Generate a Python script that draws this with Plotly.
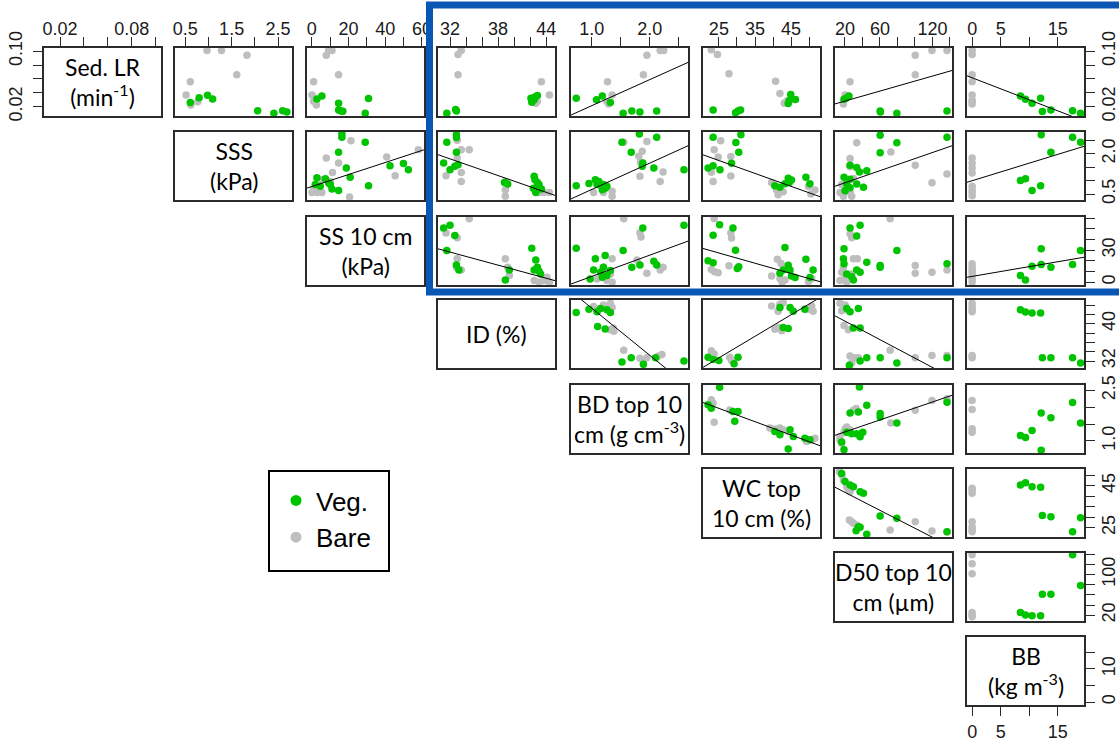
import plotly.graph_objects as go

# ---------------- variables ----------------
labels = ["Sed. LR<br>(min<sup>-1</sup>)", "SSS<br>(kPa)", "SS 10 cm<br>(kPa)", "ID (%)",
          "BD top 10<br>cm (g cm<sup>-3</sup>)", "WC top<br>10 cm (%)", "D50 top 10<br>cm (µm)",
          "BB<br>(kg m<sup>-3</sup>)"]
ranges = [[0.0066, 0.1045], [0.28, 2.80], [-2.6, 61.1], [30.5, 45.1],
          [0.64, 2.66], [20.6, 53.0], [8.6, 142.3], [-0.9, 19.6]]
tickvals = [[0.02, 0.04, 0.06, 0.08, 0.10], [0.5, 1.0, 1.5, 2.0, 2.5], [0, 10, 20, 30, 40, 50, 60],
            [32, 34, 36, 38, 40, 42, 44], [1.0, 1.5, 2.0, 2.5], [25, 30, 35, 40, 45, 50],
            [20, 40, 60, 80, 100, 120, 140], [0, 5, 10, 15]]
top_text = [["0.02", "", "", "0.08", ""], ["0.5", "", "1.5", "", "2.5"], ["0", "", "20", "", "40", "", "60"],
            ["32", "", "", "38", "", "", "44"], ["1.0", "", "2.0", ""], ["25", "", "35", "", "45", ""],
            ["20", "", "60", "", "", "120", ""], ["0", "5", "", "15"]]
side_text = [["0.02", "", "", "", "0.10"], ["0.5", "", "", "2.0", ""], ["0", "", "", "30", "", "", ""],
             ["32", "", "", "", "40", "", ""], ["1.0", "", "", "2.5"], ["25", "", "", "", "45", ""],
             ["20", "", "", "", "100", "", ""], ["0", "", "10", ""]]
legend_names = ["Veg.", "Bare"]

# ---------------- panel data (row variable = y, column variable = x) ----------------
bare_01_x = [0.97, 1.28, 1.83, 1.61, 0.61, 0.52, 0.62, 0.77]
bare_01_y = [0.101, 0.101, 0.094, 0.066, 0.056, 0.037, 0.0225, 0.027]
veg_01_x = [0.61, 0.80, 0.98, 1.09, 2.06, 2.41, 2.60, 2.69]
veg_01_y = [0.026, 0.033, 0.0365, 0.031, 0.014, 0.0105, 0.014, 0.0124]

bare_02_x = [9.2, 11.0, 7.9, 14.6, 1.0, 0.1, 1.0, 2.5]
bare_02_y = [0.101, 0.101, 0.094, 0.066, 0.056, 0.037, 0.028, 0.0225]
veg_02_x = [2.8, 5.5, 14.6, 14.6, 15.9, 16.9, 29.1, 30.9]
veg_02_y = [0.031, 0.0355, 0.025, 0.0153, 0.0138, 0.0135, 0.0105, 0.0317]

bare_03_x = [33.4, 33.0, 33.0, 43.4, 44.4, 42.7, 42.9]
bare_03_y = [0.101, 0.095, 0.066, 0.056, 0.037, 0.025, 0.028]
veg_03_x = [31.6, 32.8, 32.7, 42.1, 42.6, 42.9, 42.2, 42.5]
veg_03_y = [0.0105, 0.0138, 0.0158, 0.032, 0.034, 0.036, 0.0264, 0.030]

bare_04_x = [2.18, 2.24, 1.95, 1.89, 1.27, 1.35, 1.26, 1.29]
bare_04_y = [0.101, 0.101, 0.094, 0.066, 0.056, 0.037, 0.0273, 0.024]
veg_04_x = [0.73, 1.08, 1.18, 1.32, 1.54, 1.69, 1.83, 2.12]
veg_04_y = [0.0322, 0.030, 0.0355, 0.0259, 0.0105, 0.0138, 0.0124, 0.0138]

bare_05_x = [22.9, 24.6, 27.8, 40.7, 41.9, 43.1, 43.8]
bare_05_y = [0.102, 0.095, 0.0673, 0.0567, 0.039, 0.0248, 0.028]
veg_05_x = [23.4, 29.6, 30.3, 31.0, 44.9, 46.2, 44.5, 44.2]
veg_05_y = [0.0152, 0.0114, 0.0138, 0.0152, 0.0376, 0.0305, 0.029, 0.0247]

bare_06_x = [100.3, 119.4, 136.6, 100.3, 25.8, 20.1, 18.9, 18.2]
bare_06_y = [0.094, 0.101, 0.101, 0.066, 0.056, 0.037, 0.0297, 0.024]
veg_06_x = [18.9, 24.6, 21.2, 60.2, 60.5, 79.3, 136.6]
veg_06_y = [0.0307, 0.0355, 0.032, 0.0138, 0.0125, 0.0105, 0.0138]

bare_07_x = [0, 0, 0, 0, 0, 0, 0, 0]
bare_07_y = [0.101, 0.095, 0.066, 0.056, 0.037, 0.0297, 0.024, 0.0273]
veg_07_x = [8.46, 9.35, 10.5, 12.0, 12.3, 13.8, 17.6, 19.0]
veg_07_y = [0.0355, 0.0307, 0.0249, 0.0322, 0.0129, 0.0153, 0.0143, 0.0105]

bare_12_x = [21.3, 58.0, 7.9, 14.6, 40.8, 45.4, 11.3, 5.5, 0.1, 2.8, 5.5, 20.6, 10.1, 1.0]
bare_12_y = [2.48, 2.14, 1.84, 1.65, 1.87, 1.18, 1.30, 1.03, 0.56, 0.56, 0.56, 0.39, 0.97, 0.69]
veg_12_x = [16.4, 16.4, 29.1, 14.6, 18.8, 42.6, 49.9, 52.6, 20.9, 30.9, 2.8, 7.4, 1.9, 4.6, 10.1, 11.0, 14.6, 9.2]
veg_12_y = [2.73, 2.61, 2.42, 2.05, 1.47, 1.55, 1.63, 1.40, 1.12, 0.81, 1.10, 1.07, 0.85, 0.79, 0.85, 0.69, 0.63, 0.91]

bare_13_x = [32.9, 33.4, 34.4, 32.9, 31.5, 33.4, 33.4, 38.9, 38.9, 38.9, 43.1, 43.7, 44.4, 42.7]
bare_13_y = [2.49, 2.14, 2.14, 1.84, 1.18, 1.30, 0.97, 0.97, 0.66, 0.42, 0.56, 0.56, 0.56, 0.72]
veg_13_x = [32.8, 32.8, 31.6, 32.8, 31.2, 32.0, 32.6, 33.0, 39.2, 38.8, 42.5, 42.6, 42.9, 43.1, 42.4, 43.4, 42.7]
veg_13_y = [2.70, 2.60, 2.42, 2.05, 1.65, 1.40, 1.53, 1.59, 0.87, 0.93, 1.16, 1.03, 0.93, 0.85, 0.72, 0.69, 0.56]

bare_14_x = [1.55, 1.87, 1.95, 1.81, 1.84, 2.23, 2.18, 1.83, 1.03, 1.20, 1.35, 1.35, 1.18]
bare_14_y = [2.42, 2.09, 2.45, 1.90, 1.68, 1.32, 0.97, 1.16, 0.56, 0.56, 0.60, 0.42, 0.72]
veg_14_x = [1.52, 1.82, 2.12, 1.68, 1.88, 1.87, 2.07, 2.59, 0.73, 0.95, 1.06, 1.12, 1.20, 1.26, 1.09, 1.23, 1.18]
veg_14_y = [2.42, 2.73, 2.61, 2.05, 1.65, 1.53, 1.47, 1.40, 0.81, 0.89, 1.03, 0.97, 0.85, 0.79, 0.85, 0.72, 0.66]

bare_15_x = [25.5, 23.7, 28.3, 24.8, 22.9, 23.4, 28.3, 39.6, 41.0, 41.4, 42.8, 49.8, 50.5, 51.6]
bare_15_y = [2.48, 2.14, 1.89, 1.87, 1.31, 0.97, 1.17, 0.93, 0.65, 0.47, 0.59, 0.78, 0.50, 0.65]
veg_15_x = [23.4, 31.1, 29.7, 30.5, 28.5, 22.0, 23.4, 25.3, 44.2, 45.1, 49.1, 50.2, 40.5, 41.9, 44.5, 43.3]
veg_15_y = [2.61, 2.70, 2.41, 2.05, 1.64, 1.47, 1.55, 1.40, 1.09, 1.02, 1.12, 0.88, 0.81, 0.75, 0.93, 0.88]

bare_16_x = [33.4, 25.8, 25.8, 29.6, 72.4, 100.3, 119.4, 136.6, 16.2, 20.1, 25.8, 14.3, 27.7, 18.2]
bare_16_y = [2.40, 1.82, 1.51, 1.08, 2.06, 1.57, 0.92, 1.24, 0.85, 0.66, 0.56, 0.56, 0.42, 0.42]
veg_16_x = [60.2, 60.2, 79.3, 25.8, 33.4, 36.5, 44.9, 18.9, 25.8, 22.0, 33.4, 41.1, 25.8, 20.1, 136.6]
veg_16_y = [2.68, 2.03, 2.40, 1.57, 1.48, 1.32, 1.36, 1.12, 1.05, 0.87, 0.87, 0.75, 0.73, 0.62, 2.61]

bare_17_x = [0, 0, 0, 0, 0, 0, 0, 0]
bare_17_y = [1.84, 1.65, 1.47, 1.28, 0.79, 0.66, 0.56, 0.44]
veg_17_x = [8.46, 9.35, 10.5, 12.0, 12.1, 13.8, 17.6, 19.0]
veg_17_y = [1.00, 1.07, 0.63, 0.81, 2.70, 2.05, 2.61, 2.42]

bare_23_x = [34.4, 31.5, 32.9, 32.9, 32.8, 33.4, 38.9, 39.2, 39.4, 42.5, 43.1, 43.7, 44.1, 44.4]
bare_23_y = [59.5, 46.0, 41.6, 21.9, 14.0, 11.5, 21.9, 14.0, 6.2, 1.5, 0.0, 1.5, 4.6, 0.0]
veg_23_x = [31.2, 32.0, 32.6, 31.6, 32.8, 33.1, 42.2, 42.7, 42.9, 43.1, 42.5, 43.3, 38.9, 39.4]
veg_23_y = [50.7, 53.3, 43.8, 29.7, 16.2, 11.5, 31.9, 20.9, 14.0, 10.3, 11.5, 7.8, 2.1, 11.5]

bare_24_x = [1.55, 1.83, 1.85, 1.35, 1.20, 1.32, 1.09, 1.26, 1.35, 1.95, 2.18, 2.23, 1.78]
bare_24_y = [59.5, 46.3, 42.3, 21.9, 14.0, 7.8, 3.0, 1.5, 0.0, 8.4, 11.5, 14.0, 20.9]
veg_24_x = [0.73, 1.06, 1.23, 2.59, 1.88, 1.54, 1.69, 1.83, 2.07, 2.12, 1.03, 1.15, 1.20, 1.26, 1.18, 1.32, 0.97]
veg_24_y = [31.9, 21.9, 25.0, 53.3, 50.7, 29.7, 14.0, 16.2, 19.7, 16.2, 11.5, 9.3, 14.0, 6.2, 4.6, 10.9, 3.0]

bare_25_x = [23.7, 28.3, 28.5, 22.9, 23.8, 24.8, 27.8, 41.2, 42.2, 39.6, 41.9, 42.5, 43.3, 49.8, 50.7]
bare_25_y = [59.5, 46.2, 41.5, 12.0, 9.8, 8.9, 15.4, 21.6, 17.6, 5.8, 3.6, 0.0, 2.1, 0.5, 3.6]
veg_25_x = [25.2, 23.4, 28.9, 29.6, 22.0, 23.4, 30.5, 30.1, 43.3, 49.1, 51.1, 44.2, 44.7, 42.8, 41.9, 45.1, 46.1, 50.2]
veg_25_y = [53.9, 44.0, 50.8, 30.0, 20.1, 18.2, 14.5, 12.9, 32.5, 21.6, 11.4, 16.0, 11.4, 11.4, 8.3, 5.8, 4.5, 4.5]

bare_26_x = [71.6, 25.8, 27.7, 29.6, 34.2, 18.2, 16.2, 20.1, 14.3, 22.0, 27.7, 100.3, 100.3, 119.4, 136.6]
bare_26_y = [59.5, 45.4, 41.6, 21.9, 21.9, 14.0, 9.3, 4.6, 1.5, 0.0, 7.8, 15.6, 8.4, 9.3, 11.5]
veg_26_x = [25.8, 37.3, 33.4, 18.9, 18.2, 18.9, 44.9, 60.2, 60.2, 79.3, 136.6, 33.4, 37.3, 27.7, 22.0, 29.6]
veg_26_y = [50.7, 53.3, 43.2, 31.3, 21.9, 17.2, 18.7, 15.6, 14.0, 29.7, 17.2, 11.5, 9.3, 5.2, 7.8, 2.1]

bare_27_x = [0, 0, 0, 0, 0, 0, 0]
bare_27_y = [17.2, 14.0, 11.5, 9.3, 6.2, 3.0, 0.0]
veg_27_x = [8.46, 9.35, 10.5, 12.1, 12.1, 13.8, 17.6, 19.0]
veg_27_y = [6.2, 2.1, 15.0, 31.3, 16.5, 14.0, 16.5, 29.7]

bare_34_x = [1.03, 1.09, 1.20, 1.32, 1.35, 1.37, 1.32, 1.38, 1.55, 1.83, 1.89, 1.95, 2.15, 2.21]
bare_34_y = [43.7, 42.8, 44.0, 44.4, 43.5, 39.1, 38.7, 38.4, 34.3, 32.6, 32.0, 32.7, 33.1, 33.4]
veg_34_x = [0.73, 0.95, 1.09, 1.15, 1.26, 1.32, 1.10, 1.23, 1.52, 1.68, 1.89, 2.10, 2.59]
veg_34_y = [42.4, 43.1, 42.6, 43.3, 43.0, 42.4, 39.4, 38.9, 31.8, 32.7, 31.3, 32.7, 32.0]

bare_35_x = [39.6, 41.9, 42.8, 41.4, 49.8, 50.7, 51.1, 40.5, 41.4, 42.4, 22.9, 23.7, 28.0, 28.5, 22.5]
bare_35_y = [43.8, 44.2, 44.5, 42.7, 43.1, 43.8, 42.7, 38.8, 39.2, 38.5, 34.2, 33.5, 32.8, 32.1, 32.8]
veg_35_x = [41.9, 44.7, 45.6, 48.8, 42.8, 44.2, 22.0, 23.4, 25.0, 29.2, 30.3]
veg_35_y = [43.5, 43.5, 42.7, 43.1, 39.2, 39.0, 32.8, 32.3, 32.1, 31.4, 32.8]

bare_36_x = [14.3, 20.1, 16.2, 22.0, 18.9, 23.9, 25.8, 31.5, 35.3, 27.7, 71.6, 100.3, 119.4, 136.6]
bare_36_y = [44.4, 44.0, 42.8, 43.0, 39.6, 38.7, 33.1, 32.7, 32.7, 31.6, 34.3, 32.7, 33.2, 33.2]
veg_36_x = [22.0, 25.8, 35.3, 29.6, 37.3, 37.3, 44.9, 60.2, 79.3, 136.6, 25.0]
veg_36_y = [43.3, 42.6, 43.3, 39.1, 39.1, 32.0, 32.7, 32.7, 31.6, 32.7, 31.1]

bare_37_x = [0, 0, 0, 0, 0, 0]
bare_37_y = [44.4, 43.7, 43.0, 42.6, 33.2, 32.7]
veg_37_x = [8.46, 9.35, 10.5, 12.0, 12.3, 13.8, 17.6, 19.0]
veg_37_y = [43.0, 42.5, 42.3, 42.3, 32.7, 32.7, 32.7, 31.6]

bare_45_x = [22.9, 23.4, 23.7, 28.0, 39.1, 40.5, 41.9, 42.8, 44.2, 50.7, 51.6, 49.3]
bare_45_y = [2.22, 2.12, 1.55, 1.92, 1.38, 1.35, 1.38, 1.33, 1.28, 1.03, 1.08, 0.98]
veg_45_x = [25.2, 22.0, 22.9, 28.9, 30.3, 29.4, 40.5, 41.9, 44.7, 45.6, 50.2, 48.8, 44.2]
veg_45_y = [2.59, 2.07, 1.97, 1.87, 1.87, 1.58, 1.28, 1.18, 1.33, 1.13, 1.03, 1.08, 0.76]

bare_46_x = [14.3, 16.2, 20.1, 22.0, 25.8, 29.6, 32.7, 72.4, 100.3, 119.4, 136.6, 14.3, 18.9]
bare_46_y = [1.02, 0.92, 1.36, 1.41, 1.33, 1.91, 1.96, 1.53, 1.91, 2.20, 2.25, 1.12, 1.26]
veg_46_x = [36.5, 44.9, 25.8, 35.3, 60.2, 60.2, 79.3, 136.6, 22.0, 27.7, 33.4, 37.3, 40.3, 18.9, 16.2]
veg_46_y = [2.60, 2.06, 1.83, 1.86, 1.81, 1.71, 1.53, 2.15, 1.26, 1.21, 1.21, 1.12, 1.26, 0.74, 0.97]

bare_47_x = [0, 0, 0, 0]
bare_47_y = [2.20, 1.93, 1.36, 1.26]
veg_47_x = [8.46, 9.35, 10.5, 12.1, 13.8, 17.6, 19.0, 12.1]
veg_47_y = [1.16, 1.10, 1.31, 1.83, 1.69, 2.14, 1.53, 0.72]

bare_56_x = [13.6, 16.2, 18.2, 22.0, 23.9, 25.8, 25.0, 27.7, 29.6, 33.4, 71.6, 100.3, 119.4, 136.6]
bare_56_y = [51.7, 50.1, 47.8, 44.6, 43.0, 42.2, 28.7, 27.9, 27.1, 26.3, 23.9, 27.9, 23.5, 23.1]
veg_56_x = [16.2, 20.1, 25.8, 29.6, 37.3, 41.1, 35.3, 37.3, 44.9, 60.2, 79.3, 136.6, 32.7]
veg_56_y = [50.9, 47.0, 45.4, 44.6, 42.2, 41.4, 25.5, 25.2, 21.9, 30.6, 29.5, 23.1, 23.6]

bare_57_x = [0, 0, 0, 0, 0, 0, 0]
bare_57_y = [43.8, 43.0, 41.4, 27.9, 25.5, 23.9, 23.1]
veg_57_x = [8.46, 9.35, 10.5, 12.0, 12.3, 13.8, 17.6, 19.0]
veg_57_y = [45.4, 46.5, 44.6, 44.3, 30.9, 30.3, 23.1, 29.8]

bare_67_x = [0, 0, 0, 0, 0, 0]
bare_67_y = [139.0, 121.0, 101.5, 25.1, 20.5, 17.2]
veg_67_x = [8.46, 9.35, 10.5, 12.0, 12.3, 13.8, 17.6, 19.0]
veg_67_y = [25.1, 20.5, 19.1, 19.1, 61.3, 61.3, 139.0, 78.4]

# regression lines (intercept, slope)
fit_04 = (-0.016, 0.0375)
fit_06 = (0.0209, 0.00036)
fit_07 = (0.0616, -0.00317)
fit_12 = (0.778, 0.0223)
fit_13 = (5.114, -0.1034)
fit_14 = (-0.304, 0.975)
fit_15 = (2.941, -0.0479)
fit_16 = (0.694, 0.01122)
fit_17 = (0.994, 0.0651)
fit_23 = (93.55, -2.041)
fit_24 = (-14.44, 19.9)
fit_25 = (51.4, -0.96)
fit_27 = (5.43, 0.917)
fit_34 = (53.43, -10.1)
fit_35 = (21.10, 0.463)
fit_36 = (42.55, -0.0994)
fit_45 = (2.956, -0.0396)
fit_46 = (1.089, 0.00889)
fit_56 = (46.14, -0.2139)

g = globals()
panels = {}
fits = {}
for i in range(8):
    for j in range(i + 1, 8):
        key = f"{i}{j}"
        panels[(i, j)] = (g[f"veg_{key}_x"], g[f"veg_{key}_y"], g[f"bare_{key}_x"], g[f"bare_{key}_y"])
        if f"fit_{key}" in g:
            fits[(i, j)] = g[f"fit_{key}"]

# ---------------- layout geometry ----------------
W, H = 1119, 742
col_left = [44, 175, 307, 438, 571, 703, 835, 967]
row_top = [48, 132, 217, 300, 385, 469, 553, 637]
PW, PH = 117, 68
VEG = "#00C400"
BARE = "#BEBEBE"
FRAME = "#2b2b2b"
tickfont = dict(family="Liberation Sans, Arial, sans-serif", size=18, color="#1a1a1a")

fig = go.Figure()
lay = dict(width=W, height=H, margin=dict(l=0, r=0, t=0, b=0, autoexpand=False),
           paper_bgcolor="white", plot_bgcolor="white", showlegend=True)
annotations = []

k = 0
for i in range(8):
    for j in range(i, 8):
        k += 1
        xd = [col_left[j] / W, (col_left[j] + PW) / W]
        yd = [1 - (row_top[i] + PH) / H, 1 - row_top[i] / H]
        base = dict(showgrid=False, zeroline=False, showline=True, mirror=True,
                    linecolor=FRAME, linewidth=1.5, ticks="", showticklabels=False,
                    fixedrange=True, automargin=False)
        xa = dict(base, domain=xd, range=ranges[j], anchor=f"y{k}")
        ya = dict(base, domain=yd, range=ranges[i], anchor=f"x{k}")
        tk = dict(ticks="outside", ticklen=9, tickwidth=1.3, tickcolor=FRAME,
                  showticklabels=True, tickfont=tickfont)
        if i == 0:
            xa.update(tk, side="top", tickmode="array", tickvals=tickvals[j], ticktext=top_text[j],
                      ticklabelstandoff=-5)
        if j == 7:
            ya.update(tk, side="right", tickmode="array", tickvals=tickvals[i], ticktext=side_text[i],
                      tickangle=-90, ticklabelstandoff=-1)
        if i == 0 and j == 0:
            ya.update(tk, side="left", tickmode="array", tickvals=tickvals[0], ticktext=side_text[0],
                      tickangle=-90, ticklabelstandoff=4)
        if i == 7 and j == 7:
            xa.update(tk, side="bottom", tickmode="array", tickvals=tickvals[7], ticktext=top_text[7],
                      ticklabelstandoff=1)
        lay[f"xaxis{k}"] = xa
        lay[f"yaxis{k}"] = ya

        if i == j:
            fig.add_trace(go.Scatter(x=[None], y=[None], xaxis=f"x{k}", yaxis=f"y{k}",
                                     showlegend=False, hoverinfo="skip"))
            annotations.append(dict(x=(xd[0] + xd[1]) / 2, y=(yd[0] + yd[1]) / 2, xref="paper",
                                    yref="paper", text=labels[i], showarrow=False,
                                    font=dict(family="Lato, sans-serif", size=23, color="black"),
                                    align="center", xanchor="center", yanchor="middle"))
            continue

        vx, vy, bx, by = panels[(i, j)]
        fig.add_trace(go.Scatter(x=bx, y=by, xaxis=f"x{k}", yaxis=f"y{k}", mode="markers",
                                 marker=dict(color=BARE, size=7.5), showlegend=False))
        fig.add_trace(go.Scatter(x=vx, y=vy, xaxis=f"x{k}", yaxis=f"y{k}", mode="markers",
                                 marker=dict(color=VEG, size=7.5), showlegend=False))
        if (i, j) in fits:
            a, b = fits[(i, j)]
            xs = list(ranges[j])
            fig.add_trace(go.Scatter(x=xs, y=[a + b * v for v in xs], xaxis=f"x{k}", yaxis=f"y{k}",
                                     mode="lines", line=dict(color="black", width=1),
                                     showlegend=False, hoverinfo="skip"))

# legend entries
for name, col in zip(legend_names, [VEG, BARE]):
    fig.add_trace(go.Scatter(x=[None], y=[None], mode="markers", name=name,
                             marker=dict(color=col, size=11), xaxis="x1", yaxis="y1"))

lay["legend"] = dict(x=276 / W, y=1 - 477 / H, xanchor="left", yanchor="top",
                     bgcolor="rgba(0,0,0,0)", borderwidth=0, tracegroupgap=0,
                     font=dict(family="Liberation Sans, Arial, sans-serif", size=26, color="black"),
                     itemwidth=30)
lay["annotations"] = annotations
lay["shapes"] = [
    dict(type="rect", xref="paper", yref="paper", x0=269 / W, x1=389 / W, y0=1 - 571 / H, y1=1 - 471 / H,
         line=dict(color="black", width=2), fillcolor="rgba(0,0,0,0)"),
    dict(type="rect", xref="paper", yref="paper", x0=429.5 / W, x1=1135 / W, y0=1 - 292 / H,
         y1=1 - 5 / H, line=dict(color="#0A56B4", width=7), fillcolor="rgba(0,0,0,0)", layer="above"),
]
fig.update_layout(**lay)
fig.write_html("out.html", config={"displayModeBar": False},
               post_script="document.body.style.margin='0';document.body.style.overflow='hidden';")
